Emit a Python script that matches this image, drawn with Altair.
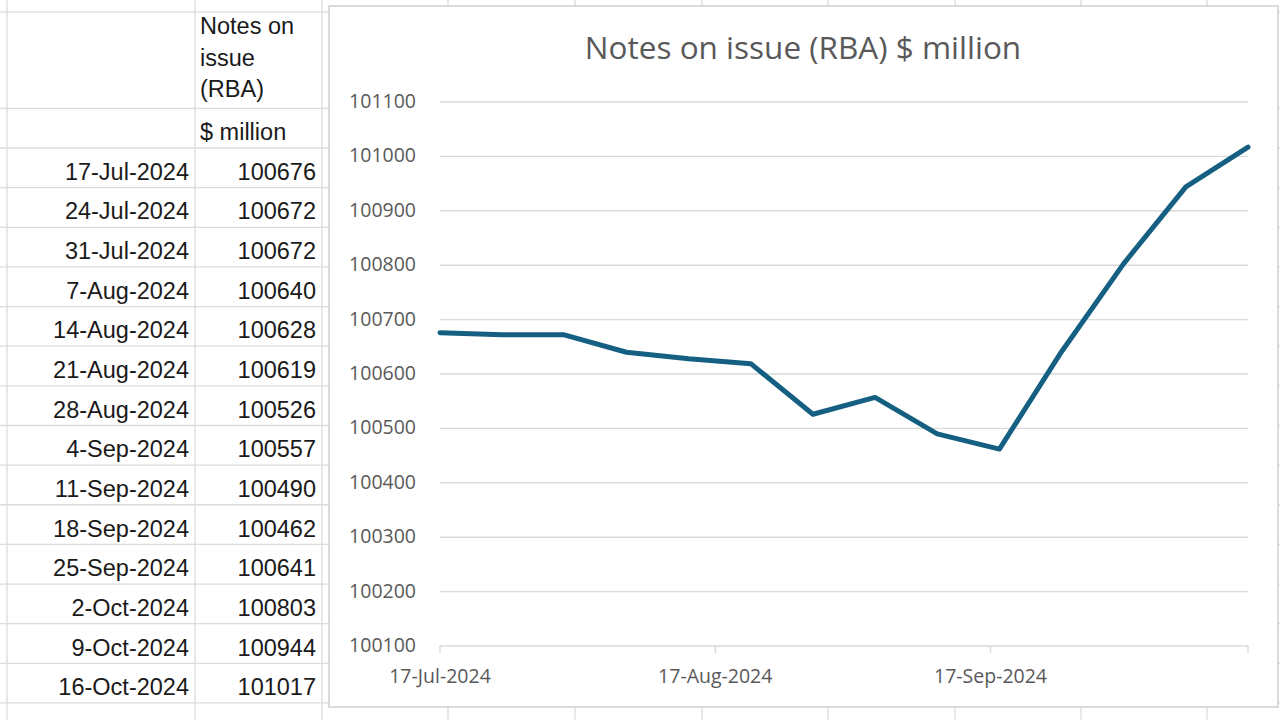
import altair as alt
import pandas as pd

# ---------------- data ----------------
dates = ["2024-07-17", "2024-07-24", "2024-07-31", "2024-08-07", "2024-08-14",
         "2024-08-21", "2024-08-28", "2024-09-04", "2024-09-11", "2024-09-18",
         "2024-09-25", "2024-10-02", "2024-10-09", "2024-10-16"]
date_labels = ["17-Jul-2024", "24-Jul-2024", "31-Jul-2024", "7-Aug-2024", "14-Aug-2024",
               "21-Aug-2024", "28-Aug-2024", "4-Sep-2024", "11-Sep-2024", "18-Sep-2024",
               "25-Sep-2024", "2-Oct-2024", "9-Oct-2024", "16-Oct-2024"]
values = [100676, 100672, 100672, 100640, 100628, 100619, 100526,
          100557, 100490, 100462, 100641, 100803, 100944, 101017]
header_lines = ["Notes on", "issue", "(RBA)"]
unit_label = "$ million"
chart_title = "Notes on issue (RBA) $ million"
y_ticks = [100100, 100200, 100300, 100400, 100500, 100600,
           100700, 100800, 100900, 101000, 101100]
x_tick_dates = ["2024-07-17", "2024-08-17", "2024-09-17", "2024-10-16"]
x_tick_labels = ["17-Jul-2024", "17-Aug-2024", "17-Sep-2024", ""]

# ---------------- layout / style constants ----------------
PLOT_L, PLOT_R = 440, 1248
PLOT_T, PLOT_B = 102, 646
ROW0_TOP, ROW_H = 148, 39.64
COL_LINES_PX = [7, 195, 322, 448, 575, 702, 828, 955, 1081, 1207]
ROW_LINES = [-3.43, -1] + list(range(0, 15))
HEADER_ROWS = [-3.05, -2.25, -1.46]
SHEET_GRID = "#dcdcdc"
CHART_GRID = "#d9d9d9"
LABEL_GRAY = "#595959"
LINE_COLOR = "#156082"
SHEET_FONT = "Liberation Sans"
CHART_FONT = "Open Sans"
SHEET_SIZE = 23.5
TEXT_DY = 5

start = pd.Timestamp(dates[0])
end = pd.Timestamp(dates[-1])
n_days = (end - start).days

df = pd.DataFrame({
    "day": (pd.to_datetime(dates) - start).days,
    "value": values,
    "date_label": date_labels,
    "row": [i + 0.5 for i in range(len(values))],
})
df["value_label"] = df["value"].astype(str)

ticks_df = pd.DataFrame({
    "day": (pd.to_datetime(x_tick_dates) - start).days,
    "label": x_tick_labels,
})
ygrid_df = pd.DataFrame({"v": y_ticks, "label": [str(v) for v in y_ticks]})

row_scale = alt.Scale(domain=[0, 14], range=[ROW0_TOP, ROW0_TOP + ROW_H * 14],
                      zero=False, nice=False)
x_scale = alt.Scale(domain=[0, n_days], range=[PLOT_L, PLOT_R], zero=False, nice=False)
y_scale = alt.Scale(domain=[y_ticks[0], y_ticks[-1]], range=[PLOT_B, PLOT_T],
                    zero=False, nice=False)

# ---------------- spreadsheet ----------------
hgrid = alt.Chart(pd.DataFrame({"r": ROW_LINES})).mark_rule(
    color=SHEET_GRID, strokeWidth=1.3
).encode(
    y=alt.Y("r:Q", scale=row_scale, axis=None),
    x=alt.value(0), x2=alt.value(1280),
)

vgrid = alt.Chart(pd.DataFrame({"px": COL_LINES_PX})).mark_rule(
    color=SHEET_GRID, strokeWidth=1.3
).encode(
    x=alt.X("px:Q", scale=None, axis=None),
    y=alt.value(0), y2=alt.value(720),
)

date_text = alt.Chart(df).mark_text(
    align="right", baseline="middle", font=SHEET_FONT, fontSize=SHEET_SIZE,
    color="#1a1a1a", dy=TEXT_DY
).encode(
    y=alt.Y("row:Q", scale=row_scale, axis=None),
    x=alt.value(189),
    text="date_label:N",
)

value_text = alt.Chart(df).mark_text(
    align="right", baseline="middle", font=SHEET_FONT, fontSize=SHEET_SIZE,
    color="#1a1a1a", dy=TEXT_DY
).encode(
    y=alt.Y("row:Q", scale=row_scale, axis=None),
    x=alt.value(316),
    text="value_label:N",
)

header_df = pd.DataFrame({"r": HEADER_ROWS, "t": header_lines})
header_text = alt.Chart(header_df).mark_text(
    align="left", baseline="middle", font=SHEET_FONT, fontSize=SHEET_SIZE, color="#1a1a1a"
).encode(
    y=alt.Y("r:Q", scale=row_scale, axis=None),
    x=alt.value(200),
    text="t:N",
)

unit_text = alt.Chart(pd.DataFrame({"r": [-0.5], "t": [unit_label]})).mark_text(
    align="left", baseline="middle", font=SHEET_FONT, fontSize=SHEET_SIZE,
    color="#1a1a1a", dy=TEXT_DY
).encode(
    y=alt.Y("r:Q", scale=row_scale, axis=None),
    x=alt.value(200),
    text="t:N",
)

# ---------------- chart ----------------
box = alt.Chart(pd.DataFrame({"a": [0]})).mark_rect(
    fill="white", stroke="#d0d0d0", strokeWidth=1.5
).encode(
    x=alt.value(329), x2=alt.value(1278), y=alt.value(6), y2=alt.value(707),
)

gridlines = alt.Chart(ygrid_df).mark_rule(color=CHART_GRID, strokeWidth=1.4).encode(
    y=alt.Y("v:Q", scale=y_scale, axis=None),
    x=alt.value(PLOT_L), x2=alt.value(PLOT_R),
)

ylabels = alt.Chart(ygrid_df).mark_text(
    align="right", baseline="middle", font=CHART_FONT, fontSize=19.5, color=LABEL_GRAY
).encode(
    y=alt.Y("v:Q", scale=y_scale, axis=None),
    x=alt.value(416),
    text="label:N",
)

xticks = alt.Chart(ticks_df).mark_rule(color=CHART_GRID, strokeWidth=1.4).encode(
    x=alt.X("day:Q", scale=x_scale, axis=None),
    y=alt.value(PLOT_B), y2=alt.value(PLOT_B + 7),
)

xlabels = alt.Chart(ticks_df).mark_text(
    align="center", baseline="middle", font=CHART_FONT, fontSize=19.5, color=LABEL_GRAY
).encode(
    x=alt.X("day:Q", scale=x_scale, axis=None),
    y=alt.value(677),
    text="label:N",
)

line = alt.Chart(df).mark_line(
    color=LINE_COLOR, strokeWidth=5, strokeJoin="round", strokeCap="round"
).encode(
    x=alt.X("day:Q", scale=x_scale, axis=None),
    y=alt.Y("value:Q", scale=y_scale, axis=None),
)

title = alt.Chart(pd.DataFrame({"t": [chart_title]})).mark_text(
    align="center", baseline="middle", font=CHART_FONT, fontSize=31.5, color=LABEL_GRAY
).encode(
    x=alt.value(803), y=alt.value(50), text="t:N",
)

chart = alt.layer(
    hgrid, vgrid, date_text, value_text, header_text, unit_text,
    box, gridlines, ylabels, xticks, xlabels, line, title,
).resolve_scale(
    x="independent", y="independent"
).properties(
    width=1280, height=720, padding=0, autosize="none", background="white"
).configure_view(stroke=None)

chart.save("out.html", embed_options={"renderer": "svg", "actions": False})
